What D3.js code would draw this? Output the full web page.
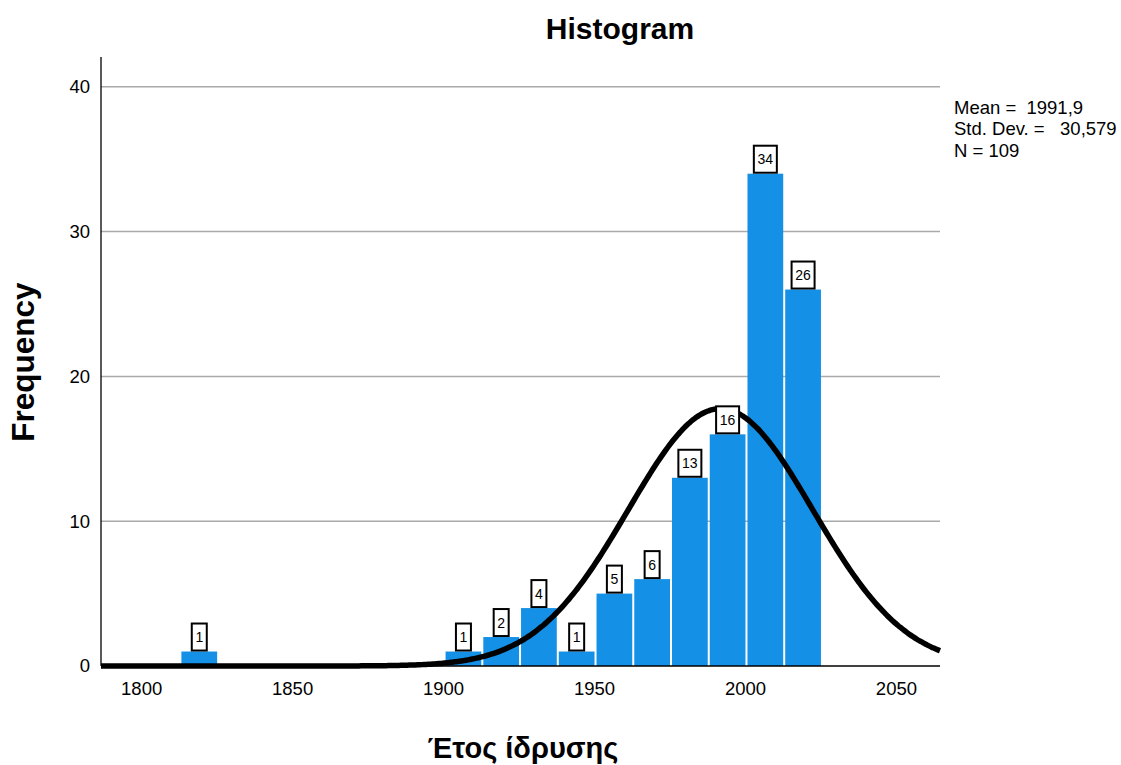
<!DOCTYPE html>
<html>
<head>
<meta charset="utf-8">
<script src="https://cdn.jsdelivr.net/npm/d3@7"></script>
<style>
  body { margin: 0; background: #fff; }
  svg { display: block; font-family: "Liberation Sans", Arial, sans-serif; }
</style>
</head>
<body>
<svg id="chart" width="1121" height="765"></svg>
<script>
// Histogram bins (year founded) and their frequencies
const binStart = 1813;
const binEnd = 2025.5;
const binCount = 17;
const frequencies = [1, 0, 0, 0, 0, 0, 0, 1, 2, 4, 1, 5, 6, 13, 16, 34, 26];
const xTicks = [1800, 1850, 1900, 1950, 2000, 2050];
const yTicks = [0, 10, 20, 30, 40];
const stats = { mean: 1991.9, sd: 30.579, n: 109 };
const statLines = ["Mean =  1991,9", "Std. Dev. =   30,579", "N = 109"];

const svg = d3.select("#chart");
const plotLeft = 101, plotRight = 940, plotTop = 57, plotBottom = 666;

const x = d3.scaleLinear().domain([1786.7, 2064.6]).range([plotLeft, plotRight]);
const y = d3.scaleLinear().domain([0, 42.06]).range([plotBottom, plotTop]);

const binWidth = (binEnd - binStart) / binCount;
const bins = frequencies.map((f, i) => ({
  x0: binStart + i * binWidth,
  x1: binStart + (i + 1) * binWidth,
  count: f
}));

// horizontal gridlines
svg.append("g")
  .selectAll("line")
  .data(yTicks.filter(t => t > 0))
  .join("line")
  .attr("x1", plotLeft).attr("x2", plotRight)
  .attr("y1", d => y(d)).attr("y2", d => y(d))
  .attr("stroke", "#aaaaaa").attr("stroke-width", 1.5);

// bars
svg.append("g")
  .selectAll("rect")
  .data(bins.filter(b => b.count > 0))
  .join("rect")
  .attr("x", d => x(d.x0) + 1)
  .attr("width", d => x(d.x1) - x(d.x0) - 2)
  .attr("y", d => y(d.count))
  .attr("height", d => y(0) - y(d.count))
  .attr("fill", "#1490e6");

// axes
const yAxis = svg.append("g")
  .attr("transform", `translate(${plotLeft},0)`)
  .call(d3.axisLeft(y).tickValues(yTicks).tickSize(0).tickPadding(11));
yAxis.select(".domain").attr("stroke", "#000").attr("stroke-width", 1.3)
  .attr("d", `M0,${plotTop}V${plotBottom}`);
yAxis.selectAll("text").attr("font-size", 18.5).attr("fill", "#000");

const xAxis = svg.append("g")
  .attr("transform", `translate(0,${plotBottom})`)
  .call(d3.axisBottom(x).tickValues(xTicks).tickFormat(d3.format("d")).tickSize(0).tickPadding(16));
xAxis.select(".domain").attr("stroke", "#000").attr("stroke-width", 1.3)
  .attr("d", `M${plotLeft},0H${plotRight}`);
xAxis.selectAll("text").attr("font-size", 18.5).attr("fill", "#000");

// fitted normal curve scaled to the histogram
const scaleK = stats.n * binWidth;
const curveData = d3.range(0, 401).map(i => {
  const xv = x.domain()[0] + (x.domain()[1] - x.domain()[0]) * i / 400;
  const z = (xv - stats.mean) / stats.sd;
  return [xv, scaleK * Math.exp(-0.5 * z * z) / (stats.sd * Math.sqrt(2 * Math.PI))];
});
svg.append("path")
  .datum(curveData)
  .attr("fill", "none")
  .attr("stroke", "#000")
  .attr("stroke-width", 5.5)
  .attr("d", d3.line().x(d => x(d[0])).y(d => y(d[1])).curve(d3.curveBasis));

// boxed value labels
const lab = svg.append("g")
  .selectAll("g")
  .data(bins.filter(b => b.count > 0))
  .join("g")
  .attr("transform", d => `translate(${(x(d.x0) + x(d.x1)) / 2},${y(d.count)})`);
lab.append("rect")
  .attr("x", d => String(d.count).length > 1 ? -11.5 : -7.5)
  .attr("width", d => String(d.count).length > 1 ? 23 : 15)
  .attr("y", -28)
  .attr("height", 27)
  .attr("fill", "#fff")
  .attr("stroke", "#000")
  .attr("stroke-width", 2);
lab.append("text")
  .attr("text-anchor", "middle")
  .attr("y", -9.5)
  .attr("font-size", 14)
  .attr("fill", "#000")
  .text(d => d.count);

// title and axis titles
svg.append("text").attr("x", 620).attr("y", 39).attr("text-anchor", "middle")
  .attr("font-size", 30).attr("font-weight", "bold").text("Histogram");
svg.append("text").attr("transform", "translate(34,362) rotate(-90)")
  .attr("text-anchor", "middle").attr("font-size", 31.5).attr("font-weight", "bold")
  .text("Frequency");
svg.append("text").attr("x", 523).attr("y", 758).attr("text-anchor", "middle")
  .attr("font-size", 29).attr("font-weight", "bold").text("Έτος ίδρυσης");

// summary statistics
svg.append("g").selectAll("text").data(statLines).join("text")
  .attr("x", 954).attr("y", (d, i) => 113.5 + i * 21.5)
  .attr("font-size", 18.5).attr("fill", "#000")
  .attr("xml:space", "preserve").style("white-space", "pre")
  .text(d => d);
</script>
</body>
</html>
